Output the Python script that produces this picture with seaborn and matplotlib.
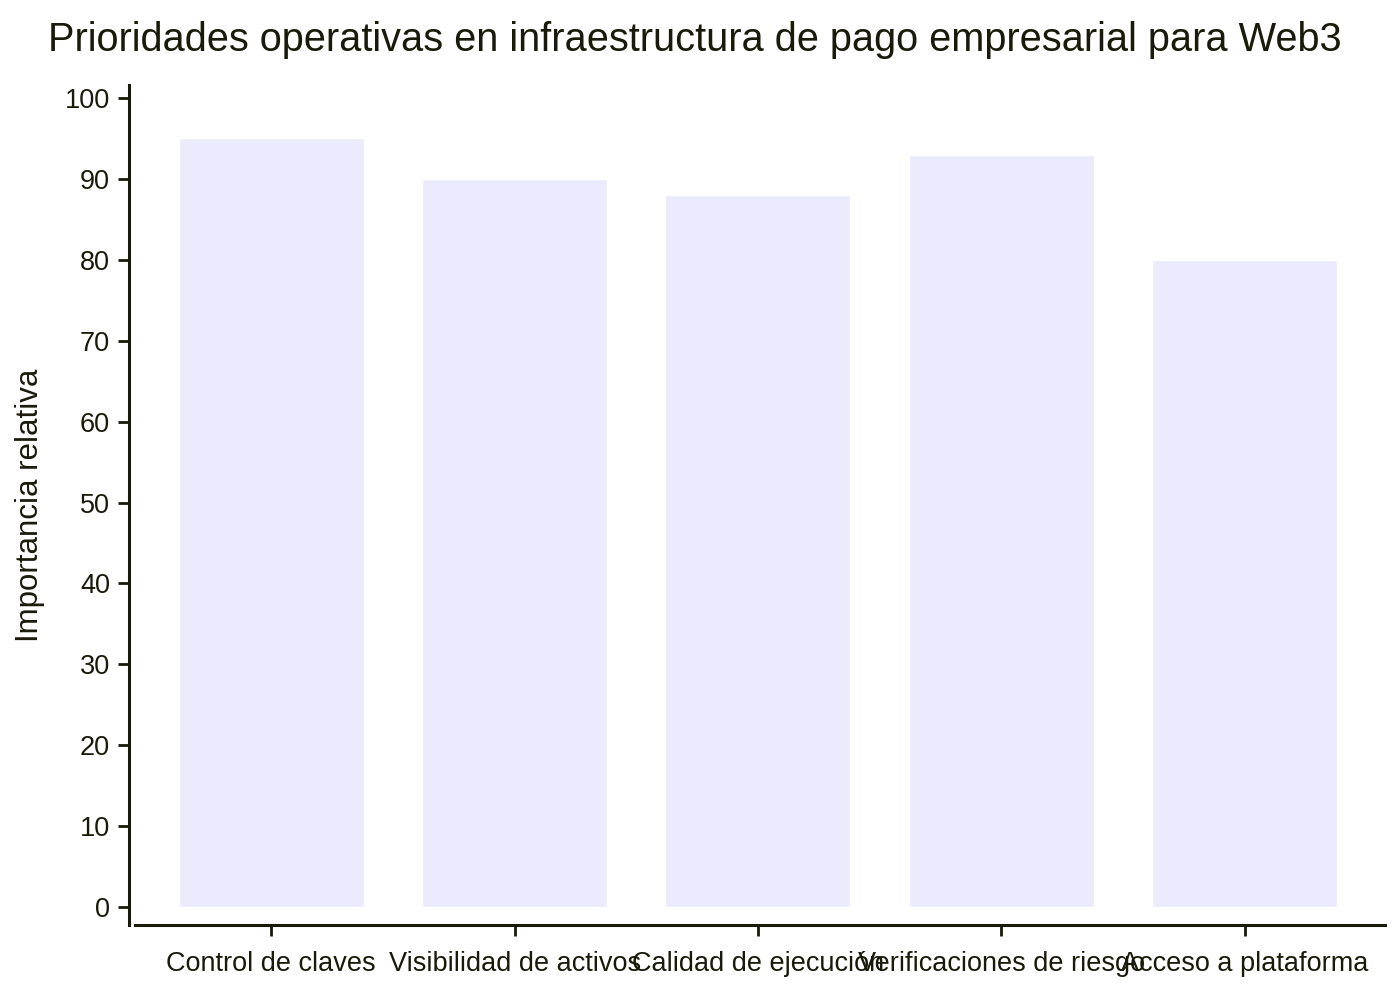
import pandas as pd
import seaborn as sns
import matplotlib.pyplot as plt

# Chart data
categories = [
    "Control de claves",
    "Visibilidad de activos",
    "Calidad de ejecución",
    "Verificaciones de riesgo",
    "Acceso a plataforma",
]
importance = [95, 90, 88, 93, 80]

ink = "#1a1a0a"
bar_color = "#ecebfd"

sns.set_theme(style="white")
plt.rcParams["font.family"] = ["Liberation Sans", "DejaVu Sans"]
plt.rcParams["text.color"] = ink
plt.rcParams["axes.labelcolor"] = ink
plt.rcParams["xtick.color"] = ink
plt.rcParams["ytick.color"] = ink

df = pd.DataFrame({"categoria": categories, "importancia": importance})

fig = plt.figure(figsize=(14, 10), dpi=100)
ax = fig.add_axes([0.0964, 0.075, 0.8926, 0.84])

sns.barplot(
    data=df,
    x="categoria",
    y="importancia",
    color=bar_color,
    saturation=1,
    width=0.76,
    ax=ax,
)

ax.set_xlim(-0.56, 4.575)
ax.set_ylim(-2.2, 101.6)
ax.set_yticks(range(0, 101, 10))

sns.despine(ax=ax)
for side in ["left", "bottom"]:
    ax.spines[side].set_color(ink)
    ax.spines[side].set_linewidth(2.2)
ax.spines["left"].set_position(("outward", 4))

ax.tick_params(axis="both", direction="out", length=8, width=2, colors=ink,
               labelsize=19.5, bottom=True, left=True)
ax.tick_params(axis="x", pad=11)
ax.tick_params(axis="y", pad=6)

ax.set_xlabel("")
ax.set_ylabel("Importancia relativa", fontsize=22.5, labelpad=14)
fig.text(0.034, 0.96, "Prioridades operativas en infraestructura de pago empresarial para Web3",
         fontsize=28.6, color=ink, ha="left", va="center")

fig.savefig("out.png", dpi=100, facecolor="white")
